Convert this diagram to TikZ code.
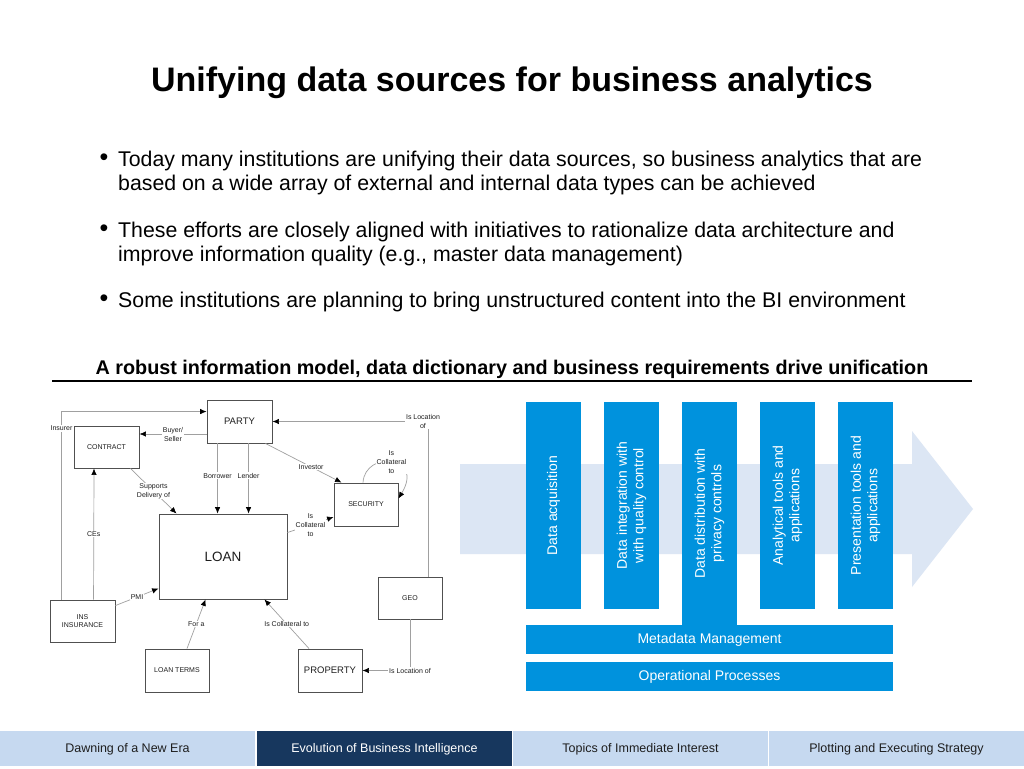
\documentclass[tikz,border=0pt]{standalone}
\usepackage{fontspec}
\setmainfont{Liberation Sans}
\usetikzlibrary{arrows.meta,positioning}

\definecolor{colblue}{RGB}{0,146,221}
\definecolor{flowblue}{RGB}{220,230,244}
\definecolor{tablight}{RGB}{198,217,240}
\definecolor{tabdark}{RGB}{23,55,94}
\definecolor{linkgray}{RGB}{160,160,160}
\definecolor{boxgray}{RGB}{80,80,80}
\definecolor{inkgray}{RGB}{30,30,30}

\tikzset{
	box/.style={draw=boxgray, line width=0.9pt, fill=white, text=inkgray,
		minimum width=65, minimum height=42, inner sep=0pt, align=center,
		font=\fontsize{7}{8.5}\selectfont},
	link/.style={draw=linkgray, line width=0.7pt,
		-{Latex[length=6.5pt,width=5.5pt,color=black]}},
	lbl/.style={fill=white, inner sep=0.8pt, text=inkgray, align=center,
		font=\fontsize{7}{9}\selectfont},
	bullettext/.style={anchor=base west, inner sep=0pt, font=\fontsize{21.3}{25}\selectfont},
	coltext/.style={rotate=90, text=white, align=center,
		font=\fontsize{14}{16.5}\selectfont},
	bartext/.style={text=white, font=\fontsize{14}{16.5}\selectfont},
	tabtext/.style={font=\fontsize{12.5}{14}\selectfont}
}

\begin{document}
\begin{tikzpicture}[x=1pt, y=-1pt]
	\useasboundingbox (0,0) rectangle (1024,768);
	\fill[white] (0,0) rectangle (1024,768);

	% Title and bullets
	\node[anchor=base, font=\fontsize{34}{40}\selectfont\bfseries] (title) at (512,91)
		{Unifying data sources for business analytics};

	\foreach \y in {165,236,306}
		\node[anchor=base, font=\fontsize{25}{28}\selectfont] at (104,\y) {•};
	\node[bullettext] (b1a) at (118,166) {Today many institutions are unifying their data sources, so business analytics that are};
	\node[bullettext] (b1b) at (118,190) {based on a wide array of external and internal data types can be achieved};
	\node[bullettext] (b2a) at (118,237) {These efforts are closely aligned with initiatives to rationalize data architecture and};
	\node[bullettext] (b2b) at (118,261) {improve information quality (e.g., master data management)};
	\node[bullettext] (b3a) at (118,307) {Some institutions are planning to bring unstructured content into the BI environment};

	% Subheading with rule
	\node[anchor=base, font=\fontsize{19.8}{23}\selectfont\bfseries] (subhead) at (512,374)
		{A robust information model, data dictionary and business requirements drive unification};
	\draw[line width=1.5pt] (52,381) -- (972,381);

	% Left: information model
	\node[box, minimum height=43, font=\fontsize{9.5}{11}\selectfont] (party) at (239.5,421.5) {PARTY};
	\node[box] (contract) at (106.5,447) {CONTRACT};
	\node[box, minimum width=64, minimum height=43] (security) at (366,504.5) {SECURITY};
	\node[box, minimum width=128, minimum height=85, font=\fontsize{13.5}{15}\selectfont] (loan) at (223,556.5) {LOAN};
	\node[box, minimum width=64] (geo) at (410,598) {GEO};
	\node[box] (ins) at (82.5,621) {INS\\INSURANCE};
	\node[box, minimum width=64, minimum height=43] (terms) at (177,670.5) {LOAN TERMS};
	\node[box, minimum width=64, minimum height=43, font=\fontsize{9.5}{11}\selectfont] (property) at (330,670.5) {PROPERTY};

	\draw[link] ([xshift=12]ins.north west) |- node[lbl, pos=0.455] {Insurer} ([yshift=-12]party.north west);
	\draw[link] ([yshift=-12.5]party.west) -- node[lbl] {Buyer/\\Seller} ([yshift=13]contract.east);
	\draw[link] ([xshift=44]ins.north west) -- node[lbl] {CEs} ([xshift=-12.5]contract.south);
	\draw[link] ([xshift=-9]contract.south east) -- node[lbl] {Supports\\Delivery of} ([xshift=18]loan.north west);
	\draw[link] ([xshift=11]party.south west) -- node[lbl, pos=0.46] {Borrower} ([xshift=59]loan.north west);
	\draw[link] ([xshift=42]party.south west) -- node[lbl, pos=0.46] {Lender} ([xshift=90]loan.north west);
	\draw[link] ([xshift=-7]party.south east) -- node[lbl, pos=0.6] {Investor} ([xshift=8]security.north west);
	\draw[link] ([xshift=-3]security.north) .. controls (365,450) and (425,455) ..
		node[lbl, pos=0.5] {Is\\Collateral\\to} ([yshift=6]security.east);
	\draw[link] ([yshift=-19]loan.north east) -- node[lbl] {Is\\Collateral\\to} ([yshift=-12.5]security.west);
	\draw[link] ([xshift=18]geo.north) |- node[lbl, pos=0.5, xshift=-5] {Is Location\\of} (party.east);
	\draw[link] ([yshift=-6]ins.north east) -- node[lbl] {PMI} ([yshift=11]loan.south west);
	\draw[link] ([xshift=10]terms.north) -- node[lbl] {For a} ([xshift=47]loan.south west);
	\draw[link] ([xshift=-21]property.north) -- node[lbl] {Is Collateral to} ([xshift=-23]loan.south east);
	\draw[link] (geo.south) |- node[lbl, pos=0.5] {Is Location of} (property.east);

	% Right: flow arrow with columns
	\fill[flowblue] (460,464) -- (912,464) -- (912,431) -- (973,509)
		-- (912,587) -- (912,554) -- (460,554) -- cycle;
	\foreach \x/\bot/\txt in {526/609/{Data acquisition},
			604/609/{Data integration with\\with quality control},
			682/625/{Data distribution with\\privacy controls},
			760/609/{Analytical tools and\\applications},
			838/609/{Presentation tools and\\applications}} {
		\fill[colblue] (\x,402) rectangle ({\x+55},\bot);
		\node[coltext] at ({\x+27.5},{(402+\bot)/2}) {\txt};
	}
	\fill[colblue] (526,625) rectangle (893,654);
	\node[bartext] (meta) at (709.5,640) {Metadata Management};
	\fill[colblue] (526,662) rectangle (893,691);
	\node[bartext] (ops) at (709.5,677) {Operational Processes};

	% Footer tabs
	\foreach \x/\tabfill/\tabink/\txt in {0/tablight/inkgray/{Dawning of a New Era},
			257/tabdark/white/{Evolution of Business Intelligence},
			513/tablight/inkgray/{Topics of Immediate Interest},
			769/tablight/inkgray/{Plotting and Executing Strategy}} {
		\fill[\tabfill] (\x,731) rectangle ({\x+255},766);
		\node[tabtext, text=\tabink] at ({\x+127.5},749) {\txt};
	}
\end{tikzpicture}
\end{document}
